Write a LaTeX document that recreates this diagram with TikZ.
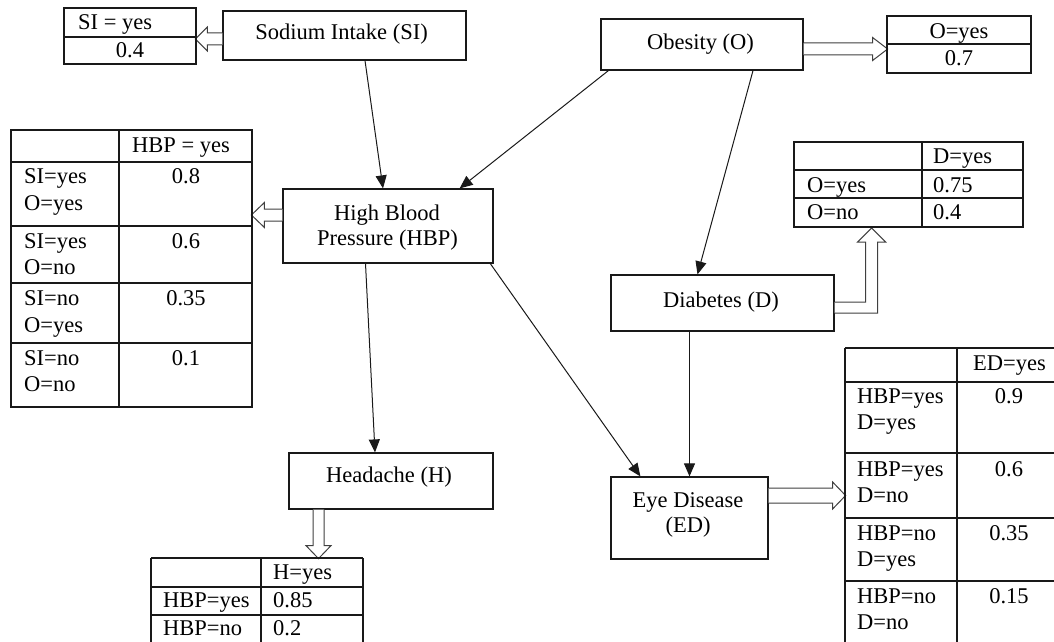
\documentclass[tikz,border=0pt]{standalone}
\usepackage{fontspec}
\setmainfont{Liberation Serif}
\usetikzlibrary{arrows.meta}
\newcommand\fsz{\fontsize{22.5}{27}\selectfont}
\begin{document}
\begin{tikzpicture}[x=1pt,y=-1pt,
  box/.style={draw=black!90, line width=1.2pt, inner sep=0pt, fill=white},
  txt/.style={font=\fsz, inner sep=0pt, anchor=base, text=black},
  txtl/.style={font=\fsz, inner sep=0pt, anchor=base west, text=black},
  grid/.style={draw=black!90, line width=1.1pt},
  conn/.style={draw=black!90, line width=1pt, -{Triangle[length=13pt,width=11pt]}},
  blk/.style={draw=black!75, fill=white, line width=1pt, line join=miter}]
\useasboundingbox (0,0) rectangle (1054,642);

% ---------- boxes ----------
\node[box, minimum width=243pt, minimum height=49pt] (si)  at (344.5,35.5) {};
\node[box, minimum width=202pt, minimum height=51pt] (ob)  at (702,44.5) {};
\node[box, minimum width=210pt, minimum height=74pt] (hbp) at (388,226) {};
\node[box, minimum width=223pt, minimum height=56pt] (d)   at (722.5,303) {};
\node[box, minimum width=204pt, minimum height=56pt] (hd)  at (391,481) {};
\node[box, minimum width=157pt, minimum height=82pt] (ed)  at (689.5,518) {};

\node[txt] (siT)   at (341.5,40) {Sodium Intake (SI)};
\node[txt] (obT)   at (700.5,49) {Obesity (O)};
\node[txt] (hbpT1) at (387,220) {High Blood};
\node[txt] (hbpT2) at (387.5,245) {Pressure (HBP)};
\node[txt] (dT)    at (721,307) {Diabetes (D)};
\node[txt] (hdT)   at (389,482) {Headache (H)};
\node[txt] (edT1)  at (688,507) {Eye Disease};
\node[txt] (edT2)  at (688,532) {(ED)};

% ---------- block arrows ----------
\draw[blk] ([yshift=-3.5pt]si.west) ++(0,-6) -- ++(-15,0) -- ++(0,-6) -- ++(-12,12) -- ++(12,12) -- ++(0,-6) -- ++(15,0);
\draw[blk] ([yshift=-4.5pt]ob.east) ++(0,-6) -- ++(69,0) -- ++(0,-5.5) -- ++(15,11.5) -- ++(-15,11.5) -- ++(0,-5.5) -- ++(-69,0);
\draw[blk] ([yshift=11pt]hbp.west) ++(0,-6) -- ++(-18,0) -- ++(0,-6.5) -- ++(-13,12.5) -- ++(13,12.5) -- ++(0,-6.5) -- ++(18,0);
\draw[blk] ([yshift=-4.5pt]d.east) ++(0,-5.5) -- ++(31,0) -- ++(0,-60) -- ++(-8,0) -- ++(14,-14) -- ++(14,14) -- ++(-8,0) -- ++(0,71) -- ++(-43,0);
\draw[blk] ([xshift=-72.5pt]hd.south) ++(-5.5,0) -- ++(0,36) -- ++(-7,0) -- ++(12.5,13) -- ++(12.5,-13) -- ++(-7,0) -- ++(0,-36);
\draw[blk] ([yshift=22.5pt]ed.east) ++(0,-7.5) -- ++(64,0) -- ++(0,-6) -- ++(13,13.5) -- ++(-13,13.5) -- ++(0,-6) -- ++(-64,0);

% ---------- connectors ----------
\draw[conn] ([xshift=20.5pt]si.south) -- ([xshift=-5pt]hbp.north);
\draw[conn] ([xshift=8pt]ob.south west) -- ([xshift=-34pt]hbp.north east);
\draw[conn] ([xshift=51pt]ob.south) -- ([xshift=-25pt]d.north);
\draw[conn] ([xshift=-22.5pt]hbp.south) -- ([xshift=-16pt]hd.north);
\draw[conn] ([xshift=-3.3pt]hbp.south east) -- ([xshift=30pt]ed.north west);
\draw[conn] (d.south -| ed.north) -- (ed.north);

% ---------- table SI ----------
\draw[grid] (64,8) rectangle (196,64);
\draw[grid] (64,37) -- (196,37);
\node[txtl] (siA) at (78,30) {SI = yes};
\node[txt]  (siB) at (130,58) {0.4};

% ---------- table O ----------
\draw[grid] (887,16) rectangle (1031,73);
\draw[grid] (887,44) -- (1031,44);
\node[txt] (oA) at (959,38) {O=yes};
\node[txt] (oB) at (959,66) {0.7};

% ---------- table HBP ----------
\draw[grid] (11,130) rectangle (252,407);
\draw[grid] (119,130) -- (119,407);
\foreach \yy in {162,226,283,343} \draw[grid] (11,\yy) -- (252,\yy);
\node[txtl] (hA)  at (132,152) {HBP = yes};
\node[txtl] (hR1a) at (24,183) {SI=yes};
\node[txtl] (hR1b) at (24,210) {O=yes};
\node[txt]  (hV1)  at (186,183) {0.8};
\node[txtl] (hR2a) at (24,248) {SI=yes};
\node[txtl] (hR2b) at (24,274) {O=no};
\node[txt]  (hV2)  at (186,248) {0.6};
\node[txtl] (hR3a) at (24,305) {SI=no};
\node[txtl] (hR3b) at (24,332) {O=yes};
\node[txt]  (hV3)  at (186,305) {0.35};
\node[txtl] (hR4a) at (24,365) {SI=no};
\node[txtl] (hR4b) at (24,391) {O=no};
\node[txt]  (hV4)  at (186,365) {0.1};

% ---------- table D ----------
\draw[grid] (794,142) rectangle (1023,227);
\draw[grid] (922,142) -- (922,227);
\draw[grid] (794,170) -- (1023,170);
\draw[grid] (794,198) -- (1023,198);
\node[txtl] (dA)  at (933,163) {D=yes};
\node[txtl] (dR1) at (807,192) {O=yes};
\node[txtl] (dV1) at (933,192) {0.75};
\node[txtl] (dR2) at (807,219) {O=no};
\node[txtl] (dV2) at (933,219) {0.4};

% ---------- table H ----------
\draw[grid] (151,558) -- (363,558);
\draw[grid] (151,587) -- (363,587);
\draw[grid] (151,615) -- (363,615);
\foreach \xx in {151,261,363} \draw[grid] (\xx,558) -- (\xx,642);
\node[txtl] (hdA)  at (273,579) {H=yes};
\node[txtl] (hdR1) at (163,607) {HBP=yes};
\node[txtl] (hdV1) at (273,607) {0.85};
\node[txtl] (hdR2) at (163,635) {HBP=no};
\node[txtl] (hdV2) at (273,635) {0.2};

% ---------- table ED ----------
\foreach \yy in {348,382,453,518,581} \draw[grid] (845,\yy) -- (1054,\yy);
\foreach \xx in {845,957} \draw[grid] (\xx,348) -- (\xx,642);
\node[txtl] (eA)   at (973,370) {ED=yes};
\node[txtl] (eR1a) at (857,403) {HBP=yes};
\node[txtl] (eR1b) at (857,429) {D=yes};
\node[txt]  (eV1)  at (1009,403) {0.9};
\node[txtl] (eR2a) at (857,476) {HBP=yes};
\node[txtl] (eR2b) at (857,502) {D=no};
\node[txt]  (eV2)  at (1009,476) {0.6};
\node[txtl] (eR3a) at (857,540) {HBP=no};
\node[txtl] (eR3b) at (857,566) {D=yes};
\node[txt]  (eV3)  at (1009,540) {0.35};
\node[txtl] (eR4a) at (857,603) {HBP=no};
\node[txtl] (eR4b) at (857,629) {D=no};
\node[txt]  (eV4)  at (1009,603) {0.15};
\end{tikzpicture}
\end{document}
